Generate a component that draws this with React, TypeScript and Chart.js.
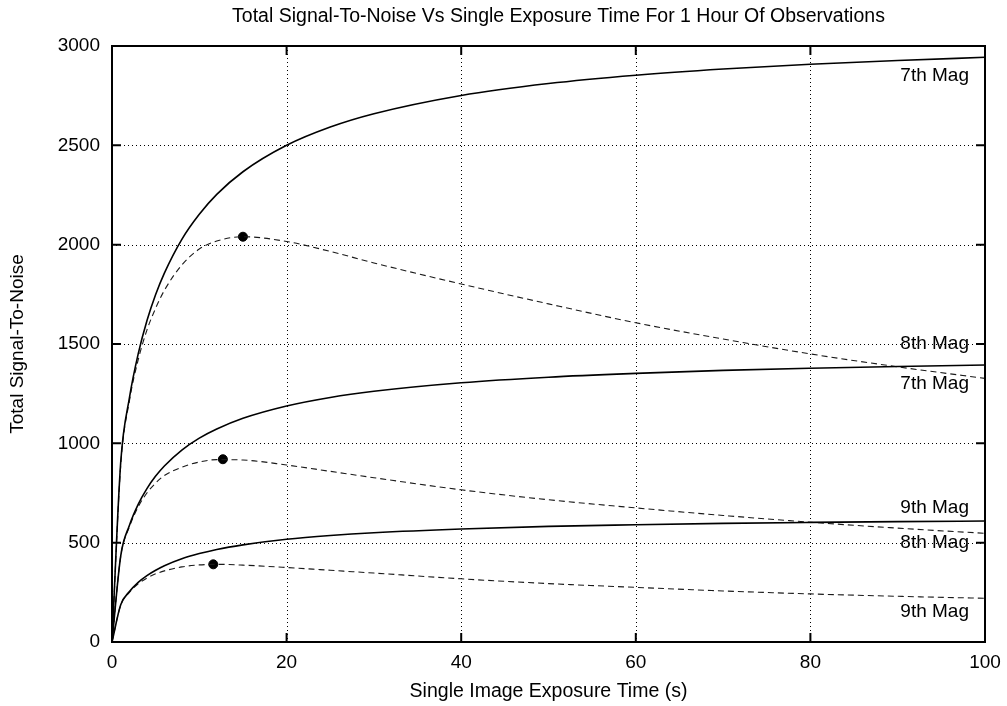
import React, { useEffect, useRef } from 'react';
import { Chart, registerables } from 'chart.js';

Chart.register(...registerables);

// ---- data ----
const exposureTimes = [0, 1, 2, 3, 4, 5, 6, 8, 10, 12, 15, 20, 25, 30, 40, 50, 60, 70, 80, 90, 100];

// solid curves (total S/N)
const mag7Total = [0, 906, 1230, 1450, 1617, 1749, 1857, 2027, 2153, 2253, 2367, 2500, 2592, 2659, 2751, 2811, 2853, 2884, 2908, 2927, 2943];
const mag8Total = [0, 434, 588, 693, 772, 835, 886, 966, 1026, 1072, 1126, 1188, 1231, 1262, 1305, 1333, 1352, 1367, 1378, 1387, 1394];
const mag9Total = [0, 187, 254, 300, 334, 361, 384, 419, 445, 466, 489, 517, 536, 550, 569, 582, 590, 597, 602, 606, 609];

// dashed curves
const mag7Dashed = [0, 890, 1215, 1420, 1570, 1680, 1770, 1898, 1978, 2018, 2040, 2016, 1966, 1908, 1802, 1702, 1607, 1525, 1450, 1385, 1327];
const mag8Dashed = [0, 432, 580, 680, 750, 800, 838, 880, 906, 918, 916, 891, 859, 827, 766, 716, 675, 637, 603, 573, 547];
const mag9Dashed = [0, 186, 250, 293, 322, 343, 358, 378, 388, 391, 387, 375, 361, 347, 318, 294, 275, 257, 242, 230, 220];

// peak markers of the dashed curves
const peakTimes = [15, 12.7, 11.6];
const peakValues = [2040, 920, 391];

// curve labels at the right edge
const curveLabels = ['7th Mag', '8th Mag', '7th Mag', '9th Mag', '8th Mag', '9th Mag'];
const curveLabelValues = [2850, 1500, 1300, 675, 500, 150];

// axes
const xTickValues = [0, 20, 40, 60, 80, 100];
const yTickValues = [0, 500, 1000, 1500, 2000, 2500, 3000];

const chartTitle = 'Total Signal-To-Noise Vs Single Exposure Time For 1 Hour Of Observations';
const xTitle = 'Single Image Exposure Time (s)';
const yTitle = 'Total Signal-To-Noise';

const FONT = "'Liberation Sans', Arial, Helvetica, sans-serif";
const FS = 19;

export default function App() {
  const ref = useRef<HTMLCanvasElement>(null);

  useEffect(() => {
    const canvas = ref.current;
    if (!canvas) return;

    const toPts = (ys: number[]) => exposureTimes.map((x, i) => ({ x, y: ys[i] }));
    const solid = (label: string, ys: number[]) => ({
      type: 'line' as const,
      label,
      data: toPts(ys),
      borderColor: '#000',
      borderWidth: 1.6,
      pointRadius: 0,
      cubicInterpolationMode: 'monotone' as const,
      fill: false,
    });
    const dashed = (label: string, ys: number[]) => ({
      type: 'line' as const,
      label,
      data: toPts(ys),
      borderColor: '#1a1a1a',
      borderWidth: 1.1,
      borderDash: [6, 4],
      pointRadius: 0,
      cubicInterpolationMode: 'monotone' as const,
      fill: false,
    });

    const xMin = xTickValues[0];
    const xMax = xTickValues[xTickValues.length - 1];
    const yMin = yTickValues[0];
    const yMax = yTickValues[yTickValues.length - 1];

    const framePlugin = {
      id: 'gnuFrame',
      beforeDatasetsDraw(chart: any) {
        const { ctx, chartArea: a, scales } = chart;
        const xs = scales.x;
        const ys = scales.y;
        ctx.save();
        ctx.strokeStyle = '#000';
        ctx.lineWidth = 1;
        ctx.setLineDash([1, 3]);
        xTickValues.forEach((v) => {
          if (v === xMin || v === xMax) return;
          const px = Math.round(xs.getPixelForValue(v)) + 0.5;
          ctx.beginPath();
          ctx.moveTo(px, a.top);
          ctx.lineTo(px, a.bottom);
          ctx.stroke();
        });
        yTickValues.forEach((v) => {
          if (v === yMin || v === yMax) return;
          const py = Math.round(ys.getPixelForValue(v)) + 0.5;
          ctx.beginPath();
          ctx.moveTo(a.left, py);
          ctx.lineTo(a.right, py);
          ctx.stroke();
        });
        ctx.restore();
      },
      afterDatasetsDraw(chart: any) {
        const { ctx, chartArea: a, scales } = chart;
        const xs = scales.x;
        const ys = scales.y;
        ctx.save();
        ctx.setLineDash([]);
        ctx.strokeStyle = '#000';
        ctx.lineWidth = 2;
        const tl = 9;
        xTickValues.forEach((v) => {
          const px = xs.getPixelForValue(v);
          ctx.beginPath();
          ctx.moveTo(px, a.bottom);
          ctx.lineTo(px, a.bottom - tl);
          ctx.moveTo(px, a.top);
          ctx.lineTo(px, a.top + tl);
          ctx.stroke();
        });
        yTickValues.forEach((v) => {
          const py = ys.getPixelForValue(v);
          ctx.beginPath();
          ctx.moveTo(a.left, py);
          ctx.lineTo(a.left + tl, py);
          ctx.moveTo(a.right, py);
          ctx.lineTo(a.right - tl, py);
          ctx.stroke();
        });
        ctx.strokeRect(a.left, a.top, a.right - a.left, a.bottom - a.top);

        ctx.fillStyle = '#000';
        ctx.font = `${FS}px ${FONT}`;
        ctx.textAlign = 'right';
        ctx.textBaseline = 'middle';
        curveLabels.forEach((t, i) => {
          ctx.fillText(t, a.right - 16, ys.getPixelForValue(curveLabelValues[i]));
        });

        // chart title
        ctx.font = `19.5px ${FONT}`;
        ctx.textAlign = 'center';
        ctx.fillText(chartTitle, (a.left + a.right) / 2 + 10, 17);
        ctx.restore();
      },
    };

    const chart = new Chart(canvas, {
      type: 'line',
      data: {
        datasets: [
          solid('7th Mag', mag7Total),
          solid('8th Mag', mag8Total),
          solid('9th Mag', mag9Total),
          dashed('7th Mag', mag7Dashed),
          dashed('8th Mag', mag8Dashed),
          dashed('9th Mag', mag9Dashed),
          {
            type: 'scatter' as const,
            label: 'Peak',
            data: peakTimes.map((x, i) => ({ x, y: peakValues[i] })),
            backgroundColor: '#000',
            borderColor: '#000',
            pointRadius: 4.5,
            showLine: false,
          } as any,
        ],
      },
      options: {
        animation: false,
        responsive: false,
        devicePixelRatio: 1,
        layout: { padding: { left: 0, right: 22, top: 46, bottom: 0 } },
        plugins: {
          legend: { display: false },
          tooltip: { enabled: false },
          title: { display: false },
        },
        scales: {
          x: {
            type: 'linear',
            min: xMin,
            max: xMax,
            afterBuildTicks: (s: any) => {
              s.ticks = xTickValues.map((v) => ({ value: v }));
            },
            afterFit: (s: any) => {
              s.height = 64;
              s.paddingLeft = 0;
              s.paddingRight = 0;
            },
            ticks: {
              color: '#000',
              font: { family: FONT, size: FS },
              padding: 9,
              maxRotation: 0,
              callback: (v: any) => String(v),
            },
            grid: { display: false, drawTicks: false, tickLength: 0 },
            border: { display: false },
            title: {
              display: true,
              text: xTitle,
              color: '#000',
              font: { family: FONT, size: 19.5 },
              padding: { top: 0, bottom: 3 },
            },
          },
          y: {
            type: 'linear',
            min: yMin,
            max: yMax,
            afterBuildTicks: (s: any) => {
              s.ticks = yTickValues.map((v) => ({ value: v }));
            },
            afterFit: (s: any) => {
              s.width = 112;
              s.paddingTop = 0;
              s.paddingBottom = 0;
            },
            ticks: {
              color: '#000',
              font: { family: FONT, size: FS },
              padding: 12,
              callback: (v: any) => String(v),
            },
            grid: { display: false, drawTicks: false, tickLength: 0 },
            border: { display: false },
            title: {
              display: true,
              text: yTitle,
              color: '#000',
              font: { family: FONT, size: FS },
              padding: { top: 6, bottom: 0 },
            },
          },
        },
      } as any,
      plugins: [framePlugin],
    });

    return () => chart.destroy();
  }, []);

  return (
    <div style={{ position: 'absolute', left: 0, top: 0, width: 1007, height: 706, background: '#fff' }}>
      <canvas ref={ref} width={1007} height={706} style={{ display: 'block' }} />
    </div>
  );
}
